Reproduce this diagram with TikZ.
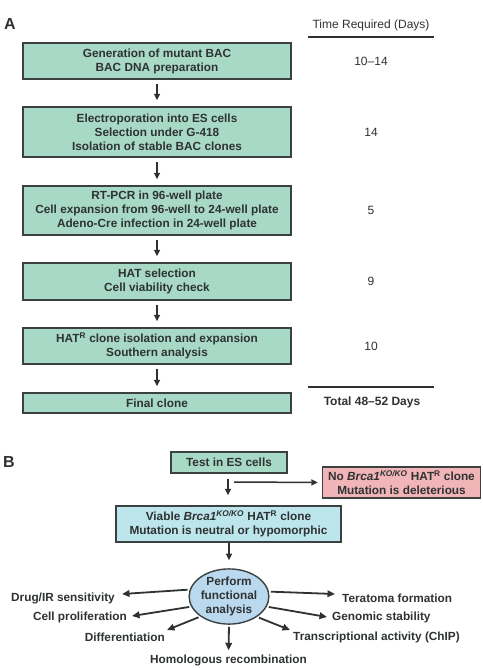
\documentclass[tikz,border=0pt]{standalone}
\usepackage{fontspec}
\setmainfont{Liberation Sans}
\usetikzlibrary{arrows.meta,shapes.geometric}
\definecolor{boxgreen}{HTML}{A8D9C6}
\definecolor{boxred}{HTML}{F1B5B7}
\definecolor{boxblue}{HTML}{BDE5EC}
\definecolor{ellblue}{HTML}{BAD8EE}
\definecolor{edgegray}{HTML}{3B4141}
\definecolor{inkgray}{HTML}{2E3232}
\begin{document}
\begin{tikzpicture}[x=1pt,y=-1pt,
  every node/.style={text=inkgray},
  stepbox/.style={draw=edgegray, line width=1.4pt, fill=boxgreen, align=center,
    inner sep=0pt, font=\bfseries\fontsize{11.8}{14}\selectfont},
  panellabel/.style={font=\bfseries\fontsize{16}{16}\selectfont},
  timetext/.style={font=\fontsize{12}{14}\selectfont},
  outtext/.style={font=\bfseries\fontsize{11.8}{14}\selectfont, inner sep=0pt},
  arr/.style={draw=inkgray, line width=1.5pt, -{Triangle[length=6.5pt,width=6pt]}},
  rarr/.style={draw=inkgray, line width=1.8pt, -{Triangle[length=7.5pt,width=6.5pt]}},
  rule/.style={draw=inkgray, line width=1.2pt}]
\useasboundingbox (0,0) rectangle (482,668);

% ---------- Panel A ----------
\node[panellabel] (labA) at (10,24) {A};
\node[timetext] (thead) at (371,25) {Time Required (Days)};
\coordinate (hl) at (308,37);
\coordinate (hr) at (434,37);
\draw[rule] (hl) -- (hr);

\node[stepbox, minimum width=268pt, minimum height=36pt] (s1) at (157,61)
  {Generation of mutant BAC\\BAC DNA preparation};
\node[stepbox, minimum width=268pt, minimum height=50pt] (s2) at (157,132)
  {Electroporation into ES cells\\Selection under G-418\\Isolation of stable BAC clones};
\node[stepbox, minimum width=268pt, minimum height=49pt] (s3) at (157,210.5)
  {RT-PCR in 96-well plate\\Cell expansion from 96-well to 24-well plate\\Adeno-Cre infection in 24-well plate};
\node[stepbox, minimum width=268pt, minimum height=37pt] (s4) at (157,281.5)
  {HAT selection\\Cell viability check};
\node[stepbox, minimum width=268pt, minimum height=36pt] (s5) at (157,346)
  {HAT\textsuperscript{R} clone isolation and expansion\\Southern analysis};
\node[stepbox, minimum width=268pt, minimum height=20pt] (s6) at (157,403)
  {Final clone};

\foreach \a/\b in {s1/s2,s2/s3,s3/s4,s4/s5,s5/s6}
  \draw[arr, shorten <=4pt, shorten >=6pt] (\a.south) -- (\b.north);

\node[timetext] (t1) at (371,61) {10--14};
\node[timetext] (t2) at (371,132) {14};
\node[timetext] (t3) at (371,210) {5};
\node[timetext] (t4) at (371,281) {9};
\node[timetext] (t5) at (371,346) {10};
\coordinate (tl) at (308,387);
\coordinate (tr) at (434,387);
\draw[rule] (tl) -- (tr);
\node[font=\bfseries\fontsize{12}{14}\selectfont] (total) at (372,402) {Total 48--52 Days};

% ---------- Panel B ----------
\node[panellabel] (labB) at (9,462) {B};
\node[stepbox, minimum width=116pt, minimum height=21pt] (test) at (229,462.5)
  {Test in ES cells};
\node[stepbox, fill=boxred, minimum width=158pt, minimum height=31pt, font=\bfseries\fontsize{11.8}{13.5}\selectfont] (del) at (401.5,482.5)
  {No \textit{Brca1}\textsuperscript{\itshape KO/KO} HAT\textsuperscript{R} clone\\Mutation is deleterious};
\node[stepbox, fill=boxblue, minimum width=225pt, minimum height=36pt] (via) at (228.5,524)
  {Viable \textit{Brca1}\textsuperscript{\itshape KO/KO} HAT\textsuperscript{R} clone\\Mutation is neutral or hypomorphic};
\node[ellipse, draw=edgegray, line width=1.4pt, fill=ellblue, minimum width=76pt,
  minimum height=53pt, inner sep=0pt, align=center,
  font=\bfseries\fontsize{11.8}{14}\selectfont] (ell) at (229,596.5)
  {Perform\\functional\\analysis};

\draw[arr, shorten <=5pt, shorten >=10pt] (test.south -| 228,0) -- (via.north -| 228,0);
\coordinate (br) at (234,482);
\draw[arr, shorten >=4pt] (br) -- (del.west);
\draw[arr, shorten >=8pt] (via.south -| 229,0) -- (ell.north);

% outcome labels
\node[outtext, anchor=east] (drug) at (115,598) {Drug/IR sensitivity};
\node[outtext, anchor=east] (prol) at (127,617) {Cell proliferation};
\node[outtext, anchor=east] (diff) at (165,637) {Differentiation};
\node[outtext] (homo) at (228.5,660) {Homologous recombination};
\node[outtext, anchor=west] (tera) at (342,598) {Teratoma formation};
\node[outtext, anchor=west] (geno) at (332,617) {Genomic stability};
\node[outtext, anchor=west] (tran) at (293,637) {Transcriptional activity (ChIP)};

\draw[rarr, shorten <=2pt] (ell.170.5) -- ([shift={(7,-4)}]drug.east);
\draw[rarr, shorten <=2pt] (ell.195) -- ([shift={(5,-1)}]prol.east);
\draw[rarr, shorten <=2pt] (ell.215) -- ([shift={(2,-7)}]diff.east);
\draw[rarr, shorten <=2pt, shorten >=4pt] (ell.south) -- (homo.north);
\draw[rarr, shorten <=2pt] (ell.7.5) -- ([shift={(-7,-4)}]tera.west);
\draw[rarr, shorten <=2pt] (ell.345) -- ([shift={(-5,0)}]geno.west);
\draw[rarr, shorten <=2pt] (ell.324) -- ([shift={(-3,-7)}]tran.west);
\end{tikzpicture}
\end{document}
